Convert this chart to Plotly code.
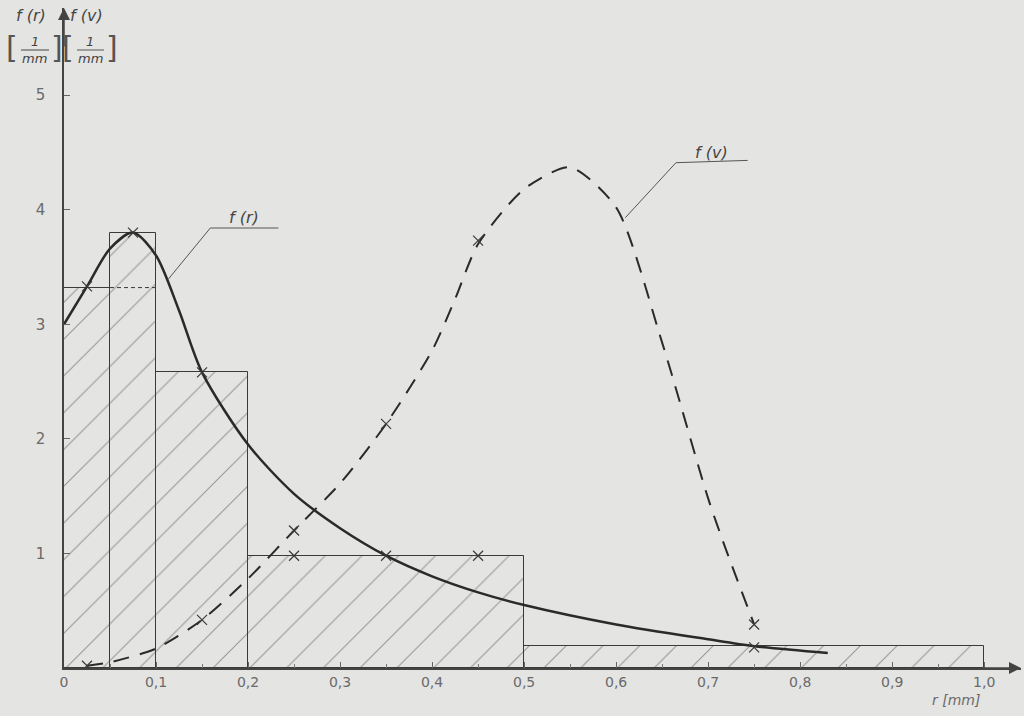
import plotly.graph_objects as go

# ---- data ----
bin_edges = [0.0, 0.05, 0.1, 0.2, 0.5, 1.0]
bin_heights = [3.32, 3.80, 2.58, 0.98, 0.19]

fr_x = [0.0, 0.025, 0.05, 0.075, 0.1, 0.125, 0.15, 0.2, 0.25, 0.3, 0.35, 0.4, 0.45, 0.5, 0.6, 0.7, 0.75, 0.83]
fr_y = [3.0, 3.33, 3.66, 3.80, 3.60, 3.12, 2.58, 1.95, 1.52, 1.22, 0.98, 0.80, 0.66, 0.55, 0.38, 0.25, 0.19, 0.13]

fv_x = [0.025, 0.05, 0.1, 0.15, 0.2, 0.25, 0.3, 0.35, 0.4, 0.425, 0.45, 0.5, 0.55, 0.6, 0.65, 0.7, 0.72, 0.75]
fv_y = [0.02, 0.05, 0.17, 0.42, 0.78, 1.20, 1.61, 2.13, 2.77, 3.22, 3.70, 4.18, 4.37, 4.02, 2.84, 1.48, 1.02, 0.38]

fr_pts_x = [0.025, 0.075, 0.15, 0.25, 0.35, 0.45, 0.75]
fr_pts_y = [3.33, 3.80, 2.58, 0.98, 0.98, 0.98, 0.18]
fv_pts_x = [0.025, 0.15, 0.25, 0.35, 0.45, 0.75]
fv_pts_y = [0.02, 0.42, 1.20, 2.13, 3.73, 0.38]

x_tickvals = [0, 0.1, 0.2, 0.3, 0.4, 0.5, 0.6, 0.7, 0.8, 0.9, 1.0]
x_ticktext = ["0", "0,1", "0,2", "0,3", "0,4", "0,5", "0,6", "0,7", "0,8", "0,9", "1,0"]
y_tickvals = [1, 2, 3, 4, 5]
y_ticktext = ["1", "2", "3", "4", "5"]

INK = "#3a3a3a"
TXT = "#6a6a6a"
BG = "#e4e4e2"

XR = [0, 1.04]
YR = [0, 5.76]

centers = [(a + b) / 2 for a, b in zip(bin_edges[:-1], bin_edges[1:])]
widths = [b - a for a, b in zip(bin_edges[:-1], bin_edges[1:])]

fig = go.Figure()
fig.add_trace(go.Bar(
    x=centers, y=bin_heights, width=widths,
    marker=dict(color="rgba(0,0,0,0)",
                line=dict(color=INK, width=1),
                pattern=dict(shape="/", fgcolor="#484848", bgcolor="rgba(0,0,0,0)",
                             size=26, solidity=0.04)),
    showlegend=False, hoverinfo="skip"))

# dashed continuation of first bar top
fig.add_trace(go.Scatter(x=[bin_edges[1], bin_edges[2]], y=[bin_heights[0], bin_heights[0]],
                         mode="lines", line=dict(color=INK, width=1, dash="4px,3px"),
                         showlegend=False, hoverinfo="skip"))

fig.add_trace(go.Scatter(x=fr_x, y=fr_y, mode="lines",
                         line=dict(color="#2a2a2a", width=2.5, shape="spline", smoothing=0.8),
                         showlegend=False))
fig.add_trace(go.Scatter(x=fv_x, y=fv_y, mode="lines",
                         line=dict(color="#2a2a2a", width=2, shape="spline", smoothing=0.7, dash="16px,11px"),
                         showlegend=False))
fig.add_trace(go.Scatter(x=fr_pts_x, y=fr_pts_y, mode="markers",
                         marker=dict(symbol="x-thin", size=10, line=dict(color=INK, width=1.2)), showlegend=False))
fig.add_trace(go.Scatter(x=fv_pts_x, y=fv_pts_y, mode="markers",
                         marker=dict(symbol="x-thin", size=10, line=dict(color=INK, width=1.2)), showlegend=False))

# leader lines for labels
fig.add_trace(go.Scatter(x=[0.113, 0.159, 0.233], y=[3.39, 3.84, 3.84], mode="lines",
                         line=dict(color="#555", width=1), showlegend=False, hoverinfo="skip"))
fig.add_trace(go.Scatter(x=[0.610, 0.665, 0.743], y=[3.93, 4.41, 4.43], mode="lines",
                         line=dict(color="#555", width=1), showlegend=False, hoverinfo="skip"))

ML, MT, MB = 64, 8, 48
PW = 920 * (XR[1] - XR[0])
PH = 716 - MT - MB


def px(x):
    return (x - ML) / PW


def py(y):
    return (716 - MB - y) / PH


fnt = dict(family="DejaVu Sans", color="#444", size=16)
small = dict(family="DejaVu Sans", color="#444", size=13)
brk = dict(family="DejaVu Sans", color="#555", size=30)


def pann(x, y, text, font):
    return dict(x=px(x), y=py(y), xref="paper", yref="paper", text=text, showarrow=False, font=font,
                xanchor="center", yanchor="middle")


ann = [
    dict(x=0.196, y=3.93, xref="x", yref="y", text="<i>f (r)</i>", showarrow=False, font=fnt),
    dict(x=0.704, y=4.50, xref="x", yref="y", text="<i>f (v)</i>", showarrow=False, font=fnt),
    pann(31, 16, "<i>f (r)</i>", fnt),
    pann(86, 16, "<i>f (v)</i>", fnt),
    pann(12, 48, "[", brk),
    pann(35, 41, "<i>1</i>", small),
    pann(35, 58, "<i>mm</i>", small),
    pann(57, 48, "]", brk),
    pann(68, 48, "[", brk),
    pann(90, 41, "<i>1</i>", small),
    pann(90, 58, "<i>mm</i>", small),
    pann(112, 48, "]", brk),
    pann(956, 700, "<i>r [mm]</i>", dict(family="DejaVu Sans", color=TXT, size=14)),
    # axis arrows
    dict(x=0, y=YR[1], xref="x", yref="y", ax=0, ay=40, showarrow=True, arrowhead=2, arrowsize=1.6,
         arrowwidth=1.5, arrowcolor="#444", text=""),
    dict(x=XR[1], y=0, xref="x", yref="y", ax=-40, ay=0, showarrow=True, arrowhead=2, arrowsize=1.6,
         arrowwidth=1.5, arrowcolor="#444", text=""),
]

shapes = [
    dict(type="line", xref="paper", yref="paper", x0=px(21), x1=px(49), y0=py(50), y1=py(50),
         line=dict(color="#444", width=1)),
    dict(type="line", xref="paper", yref="paper", x0=px(77), x1=px(104), y0=py(50), y1=py(50),
         line=dict(color="#555", width=1)),
]

fig.update_layout(
    width=1024, height=716,
    margin=dict(l=ML, r=1024 - ML - PW, t=MT, b=MB),
    paper_bgcolor=BG, plot_bgcolor=BG,
    bargap=0, annotations=ann, shapes=shapes,
    xaxis=dict(range=XR, tickvals=x_tickvals, ticktext=x_ticktext, showgrid=False, zeroline=False,
               showline=True, linecolor="#444", linewidth=1.5, ticks="inside", ticklen=6, tickcolor="#666",
               minor=dict(dtick=0.05, ticks="inside", ticklen=4, tickcolor="#777"),
               tickfont=dict(family="DejaVu Sans", color=TXT, size=14)),
    yaxis=dict(range=YR, tickvals=y_tickvals, ticktext=y_ticktext, showgrid=False, zeroline=False,
               showline=True, linecolor="#444", linewidth=1.5, ticks="inside", ticklen=6, tickcolor="#666",
               ticklabelstandoff=14,
               tickfont=dict(family="DejaVu Sans", color=TXT, size=15)),
)

fig.write_html("out.html", config={"displayModeBar": False},
               post_script="document.body.style.margin='0';document.body.style.background='#e4e4e2';")
